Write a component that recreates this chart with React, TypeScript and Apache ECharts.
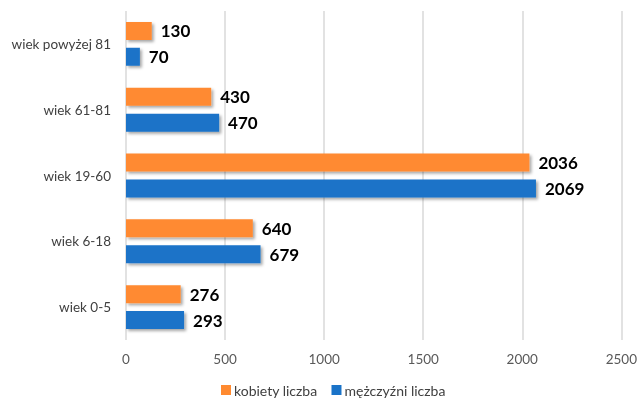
import React, { useEffect, useRef } from "react";
import * as echarts from "echarts";

const categories = ["wiek 0-5", "wiek 6-18", "wiek 19-60", "wiek 61-81", "wiek powyżej 81"];
const kobiety = [276, 640, 2036, 430, 130];
const mezczyzni = [293, 679, 2069, 470, 70];
const seriesNames = ["kobiety liczba", "mężczyźni liczba"];
const xTicks = { min: 0, max: 2500, interval: 500 };

const FONT = "Lato, 'Open Sans', sans-serif";

export default function App() {
  const ref = useRef<HTMLDivElement>(null);
  useEffect(() => {
    if (!ref.current) return;
    const chart = echarts.init(ref.current, undefined, { renderer: "svg" });
    const shadow = {
      shadowBlur: 3,
      shadowOffsetX: 2,
      shadowOffsetY: 2,
      shadowColor: "rgba(0,0,0,0.35)",
    };
    const label = {
      show: true,
      position: "right" as const,
      distance: 9,
      fontFamily: FONT,
      fontWeight: "bold" as const,
      fontSize: 17,
      color: "#000",
    };
    chart.setOption({
      animation: false,
      textStyle: { fontFamily: FONT },
      grid: { left: 126, right: 15, top: 11, bottom: 61, containLabel: false },
      legend: {
        data: seriesNames,
        top: 378,
        left: 216,
        itemWidth: 10,
        itemHeight: 10,
        itemGap: 14,
        itemStyle: { borderWidth: 0 },
        icon: "rect",
        textStyle: { fontFamily: FONT, fontSize: 14, color: "#404040", padding: [0, 0, 0, -2] },
      },
      xAxis: {
        type: "value",
        min: xTicks.min,
        max: xTicks.max,
        interval: xTicks.interval,
        axisLine: { show: false },
        axisTick: { show: false },
        splitLine: { lineStyle: { color: "#d9d9d9", width: 1.5 } },
        axisLabel: {
          fontFamily: FONT,
          fontSize: 13.5,
          color: "#595959",
          margin: 12,
          formatter: (v: number) => String(v),
        },
      },
      yAxis: {
        type: "category",
        data: categories,
        axisLine: { show: false },
        axisTick: { show: false },
        splitLine: { show: false },
        axisLabel: { fontFamily: FONT, fontSize: 13.5, color: "#404040", margin: 15 },
      },
      series: [
        {
          name: seriesNames[0],
          type: "bar",
          data: kobiety,
          barWidth: 18,
          barGap: "44%",
          itemStyle: { color: "#FF8A30", ...shadow },
          label,
        },
        {
          name: seriesNames[1],
          type: "bar",
          data: mezczyzni,
          barWidth: 18,
          barGap: "44%",
          itemStyle: { color: "#1A73C8", ...shadow },
          label,
        },
      ],
    });
    return () => chart.dispose();
  }, []);
  return (
    <div
      ref={ref}
      style={{ position: "fixed", left: 0, top: 0, width: 640, height: 401 }}
    />
  );
}
